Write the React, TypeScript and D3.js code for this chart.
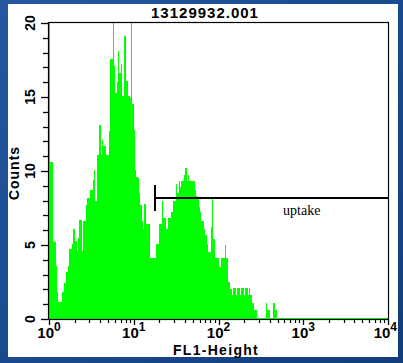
import React, { useEffect, useRef } from "react";
import * as d3 from "d3";

const title = "13129932.001";
const xLabel = "FL1-Height";
const yLabel = "Counts";
const decades = [0, 1, 2, 3, 4];
const minorSteps = [2, 3, 4, 5, 6, 7, 8, 9];
const yMajor = [0, 5, 10, 15, 20];
const yMinor = [1, 2, 3, 4, 6, 7, 8, 9, 11, 12, 13, 14, 16, 17, 18, 19];

// 256 log channels spanning 10^0 .. 10^4
const counts = [
  25, 10.6, 10.6, 5.3, 5.2, 3.6, 1.8, 1.15, 1.15, 1.15, 1.8, 2.4, 2.4, 3.2, 3.6, 4.7,
  4.7, 5.1, 6.1, 6.1, 5.3, 4.6, 5.5, 6.7, 6.7, 4.6, 6.6, 6.6, 7.7, 8.2, 8.2, 8.7,
  8.7, 9.4, 10.1, 8.0, 11.1, 11.1, 13.1, 11.1, 12.1, 11.7, 11.7, 11.1, 11.1, 12.7, 17.6, 17.6,
  22, 17.1, 15.3, 16.0, 18.1, 16.6, 17.2, 15.1, 15.1, 19.1, 16.1, 16.1, 15.1, 14.9, 22, 14.5,
  12.8, 10.1, 9.6, 9.5, 8.5, 7.7, 6.6, 6.1, 7.8, 6.4, 6.4, 6.4, 4.1, 4.1, 4.1, 4.1,
  4.1, 5.1, 5.1, 6.4, 6.4, 8.0, 6.8, 6.8, 6.1, 6.1, 6.8, 6.8, 7.2, 7.2, 8.0, 8.0,
  9.1, 8.5, 9.3, 8.9, 9.3, 9.3, 9.7, 10.2, 9.3, 9.7, 9.3, 9.3, 9.3, 9.3, 8.7, 8.3,
  8.2, 7.6, 7.2, 6.6, 6.6, 6.1, 5.7, 5.1, 4.5, 4.5, 6.2, 8.2, 5.4, 4.1, 4.1, 4.1,
  3.5, 3.5, 4.1, 4.1, 4.1, 5.0, 4.1, 2.5, 2.5, 2.0, 1.6, 2.1, 2.1, 1.6, 2.1, 2.1,
  1.6, 2.1, 2.1, 1.6, 2.1, 2.1, 1.6, 2.1, 1.6, 1.1, 1.1, 0.6, 0.6, 0, 0, 0,
  0, 0, 0, 0, 1.1, 0.6, 0.6, 0, 0, 1.1, 1.1, 0.6, 0, 0, 0, 0,
  0, 0, 0, 0, 0, 0, 0, 0, 0, 0, 0, 0, 0, 0, 0, 0,
  0, 0, 0, 0, 0, 0, 0, 0, 0, 0, 0, 0, 0, 0, 0, 0,
  0, 0, 0, 0, 0, 0, 0, 0, 0, 0, 0, 0, 0, 0, 0, 0,
  0, 0, 0, 0, 0, 0, 0, 0, 0, 0, 0, 0, 0, 0, 0, 0,
  0, 0, 0, 0, 0, 0, 0, 0, 0, 0, 0, 0, 0, 0, 0, 0,
];

const gateName = "uptake";
const gateRange = [17.8, 10000];
const gateLevel = 8.2;
const gateLabelAt = 960;

const W = 403;
const H = 363;
const sans = "'Liberation Sans', Arial, sans-serif";

const App = () => {
  const ref = useRef<SVGSVGElement>(null);

  useEffect(() => {
    const svg = d3.select(ref.current);
    svg.selectAll("*").remove();

    const x = d3.scaleLog().domain([1, 10000]).range([49, 388]);
    const y = d3.scaleLinear().domain([0, 20]).range([319, 23]);

    const defs = svg.append("defs");
    const grad = defs.append("linearGradient")
      .attr("id", "bg").attr("x1", "0%").attr("y1", "0%").attr("x2", "100%").attr("y2", "100%");
    grad.append("stop").attr("offset", "0%").attr("stop-color", "#2558a0");
    grad.append("stop").attr("offset", "50%").attr("stop-color", "#1a4a8e");
    grad.append("stop").attr("offset", "100%").attr("stop-color", "#123d7c");
    defs.append("clipPath").attr("id", "plot")
      .append("rect").attr("x", 49).attr("y", 22).attr("width", 339).attr("height", 297);

    svg.append("rect").attr("width", W).attr("height", H).attr("fill", "url(#bg)");
    svg.append("rect").attr("x", 8).attr("y", 4).attr("width", 390).attr("height", 353).attr("fill", "#fff");

    // histogram
    const n = counts.length;
    const pts = counts.concat([0]);
    const area = d3.area<number>()
      .x((d, i) => x(Math.pow(10, (i * 4) / n)))
      .y0(y(0))
      .y1(d => y(Math.min(d, 20.2)))
      .curve(d3.curveStepAfter);

    const g = svg.append("g").attr("clip-path", "url(#plot)");
    g.append("path").attr("d", area(pts)).attr("fill", "#00ff00").attr("shape-rendering", "crispEdges");
    g.append("line")
      .attr("x1", x(1)).attr("x2", x(10000))
      .attr("y1", y(0) - 0.5).attr("y2", y(0) - 0.5)
      .attr("stroke", "#00ff00");

    // frame
    svg.append("rect")
      .attr("x", 48.5).attr("y", 22.5).attr("width", 340).attr("height", 297)
      .attr("fill", "none").attr("stroke", "#000").attr("stroke-width", 1.2);

    // y ticks
    svg.append("g").selectAll("line")
      .data(yMajor.concat(yMinor))
      .join("line")
      .attr("x1", d => (yMajor.includes(d) ? 41 : 43)).attr("x2", 48)
      .attr("y1", d => Math.round(y(d)) + 0.5).attr("y2", d => Math.round(y(d)) + 0.5)
      .attr("stroke", "#000").attr("stroke-width", 1.3);

    svg.append("g").selectAll("text")
      .data(yMajor)
      .join("text")
      .attr("transform", d => `translate(35,${y(d)}) rotate(-90)`)
      .attr("text-anchor", "middle")
      .attr("font-family", sans).attr("font-weight", "bold").attr("font-size", 14)
      .text(d => d);

    // x ticks
    const minor: number[] = [];
    decades.slice(0, -1).forEach(d => minorSteps.forEach(k => minor.push(k * Math.pow(10, d))));
    svg.append("g").selectAll("line")
      .data(minor)
      .join("line")
      .attr("x1", d => Math.round(x(d)) + 0.5).attr("x2", d => Math.round(x(d)) + 0.5)
      .attr("y1", 320).attr("y2", 323)
      .attr("stroke", "#000").attr("stroke-width", 1.2);
    svg.append("g").selectAll("line")
      .data(decades)
      .join("line")
      .attr("x1", d => Math.round(x(Math.pow(10, d))) + 0.5).attr("x2", d => Math.round(x(Math.pow(10, d))) + 0.5)
      .attr("y1", 320).attr("y2", 325)
      .attr("stroke", "#000").attr("stroke-width", 1.3);

    const lab = svg.append("g").selectAll("text")
      .data(decades)
      .join("text")
      .attr("x", d => (d === 4 ? 397 : x(Math.pow(10, d))))
      .attr("y", 338)
      .attr("text-anchor", d => (d === 4 ? "end" : "middle"))
      .attr("font-family", sans).attr("font-weight", "bold").attr("font-size", 15);
    lab.append("tspan").text("10");
    lab.append("tspan").attr("dy", -7).attr("font-size", 12).text(d => d);

    // gate
    const gx = x(gateRange[0]);
    const gy = Math.round(y(gateLevel));
    svg.append("line")
      .attr("x1", gx).attr("x2", x(gateRange[1])).attr("y1", gy).attr("y2", gy)
      .attr("stroke", "#000").attr("stroke-width", 2);
    svg.append("line")
      .attr("x1", gx).attr("x2", gx).attr("y1", gy - 13).attr("y2", gy + 13)
      .attr("stroke", "#000").attr("stroke-width", 2);
    svg.append("text")
      .attr("x", x(gateLabelAt)).attr("y", 215)
      .attr("text-anchor", "middle")
      .attr("font-family", "'Liberation Serif', 'Times New Roman', serif").attr("font-size", 14)
      .text(gateName);

    // titles
    svg.append("text")
      .attr("x", 205).attr("y", 18).attr("text-anchor", "middle")
      .attr("font-family", sans).attr("font-weight", "bold").attr("font-size", 15)
      .attr("letter-spacing", 1)
      .text(title);
    svg.append("text")
      .attr("x", 216).attr("y", 355).attr("text-anchor", "middle")
      .attr("font-family", sans).attr("font-weight", "bold").attr("font-size", 14)
      .attr("letter-spacing", 1.3)
      .text(xLabel);
    svg.append("text")
      .attr("transform", "translate(19,173) rotate(-90)")
      .attr("text-anchor", "middle")
      .attr("font-family", sans).attr("font-weight", "bold").attr("font-size", 14)
      .attr("letter-spacing", 1)
      .text(yLabel);
  }, []);

  return (
    <svg ref={ref} width={W} height={H} style={{ position: "absolute", left: 0, top: 0, display: "block" }} />
  );
};

export default App;
